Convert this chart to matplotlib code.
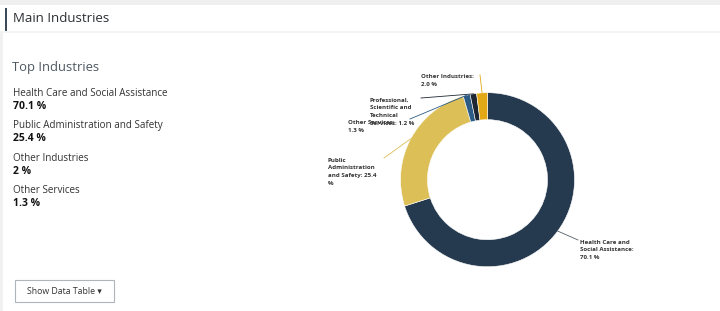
import matplotlib
matplotlib.use("Agg")
import matplotlib.pyplot as plt
from matplotlib.patches import Rectangle
import numpy as np

W, H = 720, 311

# ---------------- data ----------------
title = "Main Industries"
list_title = "Top Industries"
top_names = ["Health Care and Social Assistance", "Public Administration and Safety",
             "Other Industries", "Other Services"]
top_values = ["70.1 %", "25.4 %", "2 %", "1.3 %"]

categories = ["Health Care and Social Assistance", "Public Administration and Safety",
              "Other Services", "Professional, Scientific and Technical Services",
              "Other Industries"]
values = [70.1, 25.4, 1.3, 1.2, 2.0]
pie_labels = ["Health Care and\nSocial Assistance:\n70.1 %",
              "Public\nAdministration\nand Safety: 25.4\n%",
              "Other Services:\n1.3 %",
              "Professional,\nScientific and\nTechnical\nServices: 1.2 %",
              "Other Industries:\n2.0 %"]
colors = ["#263a4f", "#dcbf57", "#2c5c86", "#1c2733", "#e3a816"]

button_text = "Show Data Table \u25BE"

# ---------------- layout ----------------
def fx(x):
    return x / W

plt.rcParams['font.family'] = ['Open Sans', 'DejaVu Sans']
fig = plt.figure(figsize=(W / 100, H / 100), dpi=100)
fig.patch.set_facecolor("white")

bg = fig.add_axes([0, 0, 1, 1])
bg.set_xlim(0, W)
bg.set_ylim(H, 0)
bg.axis("off")
# top gray strip
bg.add_patch(Rectangle((0, 0), W, 5, color="#efefef", lw=0))
# header bottom separator (very light)
bg.add_patch(Rectangle((0, 31), W, 1.5, color="#f4f4f4", lw=0))
# left gray edge in body
bg.add_patch(Rectangle((0, 32), 3, H - 32, color="#f1f1f1", lw=0))
# header accent bar
bg.add_patch(Rectangle((5, 8), 2.2, 23, color="#3d4a57", lw=0))
bg.text(13, 18.5, title, fontsize=9.5, color="#2b2f33", va="center", ha="left")

# left list
bg.text(12, 68, list_title, fontsize=9.4, color="#4f5962", va="center", ha="left")
y0_name, y0_val, step = 93.3, 106.3, 32.4
for i, (n, v) in enumerate(zip(top_names, top_values)):
    bg.text(13, y0_name + i * step, n, fontsize=7.1, color="#333333", va="center", ha="left")
    bg.text(13, y0_val + i * step, v, fontsize=7.5, color="#111111", va="center",
            ha="left", fontweight="bold")

# button
bg.add_patch(Rectangle((15, 280), 98.5, 21.5, facecolor="white", edgecolor="#b0b5ba", lw=0.8))
bg.text(64, 291, button_text, fontsize=6.3, color="#333333", va="center", ha="center")

# ---------------- donut ----------------
cx, cy, R = 487.5, 179.7, 87.0
ax = fig.add_axes([fx(cx - R), 1 - (cy + R) / H, 2 * R / W, 2 * R / H])
wedges, _ = ax.pie(values, colors=colors, startangle=90, counterclock=False, radius=1,
                   wedgeprops=dict(width=0.31, edgecolor="white", linewidth=0.4))
ax.set_xlim(-1, 1)
ax.set_ylim(-1, 1)
ax.axis("off")

# label layout: (text left x, text top y, connector start x, connector start y) in pixels
label_layout = [
    (580, 239.5, 578, 240),
    (328, 157.5, 384, 158),
    (348, 120, 410, 119),
    (370, 97.5, 421, 98),
    (421, 74, 480, 75),
]
conn_colors = ["#55606b", "#dcbf57", "#2c5c86", "#1c2733", "#e3a816"]

def p2d(px, py):
    return (px - cx) / R, (cy - py) / R

for w, lab, (tx, ty, sx, sy), cc in zip(wedges, pie_labels, label_layout, conn_colors):
    ang = np.deg2rad((w.theta1 + w.theta2) / 2)
    ex, ey = np.cos(ang), np.sin(ang)
    x0, y0 = p2d(sx, sy)
    ax.plot([x0, ex], [y0, ey], color=cc, lw=0.6, clip_on=False)
    lx, ly = p2d(tx, ty)
    ax.text(lx, ly, lab, fontsize=4.4, fontweight="bold", color="#333333",
            ha="left", va="top", linespacing=1.68, clip_on=False)

fig.savefig("out.png", dpi=100, facecolor=fig.get_facecolor())
